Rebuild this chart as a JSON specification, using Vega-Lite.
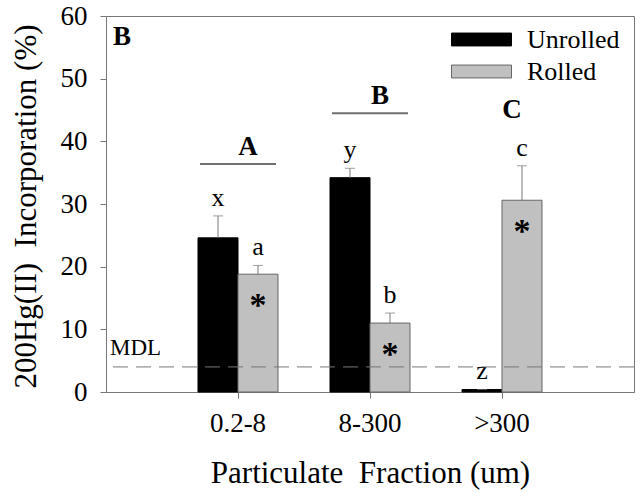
{
  "$schema": "https://vega.github.io/schema/vega-lite/v6.json",
  "width": 528,
  "height": 376,
  "autosize": {"type": "none"},
  "padding": {"left": 106, "top": 16, "right": 7, "bottom": 101},
  "config": {
    "font": "Liberation Serif",
    "view": {"stroke": "#777", "strokeWidth": 1},
    "text": {"color": "black", "font": "Liberation Serif"},
    "legend": {"labelFont": "Liberation Serif", "titleFont": "Liberation Serif"},
    "axisY": {
      "grid": false,
      "titleFont": "Liberation Serif",
      "titleFontSize": 31,
      "titleFontWeight": "normal",
      "titleColor": "black",
      "titleX": -80,
      "titleY": 190,
      "titleBaseline": "middle",
      "titleAngle": -90,
      "labelFont": "Liberation Serif",
      "labelFontSize": 27,
      "labelColor": "black",
      "labelPadding": 13,
      "tickSize": 6,
      "tickColor": "#777",
      "domainColor": "#777"
    },
    "axisX": {
      "titleFont": "Liberation Serif",
      "titleFontSize": 31,
      "titleFontWeight": "normal",
      "titleColor": "black",
      "titleY": 90,
      "titleBaseline": "alphabetic",
      "labelFont": "Liberation Serif",
      "labelFontSize": 27,
      "labelColor": "black",
      "labelAngle": 0,
      "labelPadding": 12,
      "tickSize": 6,
      "tickColor": "#777",
      "domainColor": "#777"
    }
  },
  "datasets": {
    "bars": [
      {"fraction": "0.2-8", "treatment": "Unrolled", "value": 24.6, "err": 28.1, "letter": "x", "star": false},
      {"fraction": "0.2-8", "treatment": "Rolled", "value": 18.8, "err": 20.2, "letter": "a", "star": true},
      {"fraction": "8-300", "treatment": "Unrolled", "value": 34.2, "err": 35.7, "letter": "y", "star": false},
      {"fraction": "8-300", "treatment": "Rolled", "value": 11.0, "err": 12.6, "letter": "b", "star": true},
      {"fraction": ">300", "treatment": "Unrolled", "value": 0.4, "err": 0.4, "letter": "z", "star": false},
      {"fraction": ">300", "treatment": "Rolled", "value": 30.6, "err": 36.1, "letter": "c", "star": true}
    ],
    "groups": [
      {"fraction": "0.2-8", "group": "A", "level": 36.4, "line": true},
      {"fraction": "8-300", "group": "B", "level": 44.5, "line": true},
      {"fraction": ">300", "group": "C", "level": 42.3, "line": false}
    ],
    "mdl": [{"level": 4, "label": "MDL", "start": 0}],
    "panel": [{"label": "B", "start": 0, "top": 60}]
  },
  "layer": [
    {
      "encoding": {
        "x": {
          "field": "fraction",
          "type": "nominal",
          "sort": ["0.2-8", "8-300", ">300"],
          "scale": {"paddingInner": 0.394, "paddingOuter": 0.697},
          "title": "Particulate \u00a0Fraction (um)"
        }
      },
      "layer": [
        {
          "data": {"name": "bars"},
          "mark": {"type": "bar", "strokeWidth": 1},
          "encoding": {
            "xOffset": {"field": "treatment", "sort": ["Unrolled", "Rolled"], "scale": {"paddingInner": 0, "paddingOuter": 0}},
            "y": {
              "field": "value",
              "type": "quantitative",
              "scale": {"domain": [0, 60], "nice": false},
              "axis": {"values": [0, 10, 20, 30, 40, 50, 60]},
              "title": "200Hg(II) \u00a0Incorporation (%)"
            },
            "fill": {
              "field": "treatment",
              "type": "nominal",
              "scale": {"domain": ["Unrolled", "Rolled"], "range": ["#000000", "#c0c0c0"]},
              "legend": {
                "title": null,
                "orient": "none",
                "legendX": 360,
                "legendY": 8,
                "padding": 0,
                "symbolType": "M-2,-0.43L2,-0.43L2,0.43L-2,0.43Z",
                "symbolSize": 900,
                "symbolStrokeWidth": 1,
                "labelFont": "Liberation Serif",
                "labelFontSize": 26,
                "labelColor": "black",
                "labelOffset": 30,
                "rowPadding": 3
              }
            },
            "stroke": {
              "field": "treatment",
              "type": "nominal",
              "scale": {"domain": ["Unrolled", "Rolled"], "range": ["#000000", "#666666"]}
            }
          }
        },
        {
          "data": {"name": "bars"},
          "mark": {"type": "rule", "color": "#777", "strokeWidth": 1},
          "encoding": {
            "xOffset": {"field": "treatment", "sort": ["Unrolled", "Rolled"]},
            "y": {"field": "value", "type": "quantitative", "scale": {"domain": [0, 60], "nice": false}, "axis": {"values": [0, 10, 20, 30, 40, 50, 60]}, "title": "200Hg(II) \u00a0Incorporation (%)"},
            "y2": {"field": "err"}
          }
        },
        {
          "data": {"name": "bars"},
          "mark": {"type": "tick", "color": "#777", "size": 10, "thickness": 1, "orient": "horizontal"},
          "encoding": {
            "xOffset": {"field": "treatment", "sort": ["Unrolled", "Rolled"]},
            "y": {"field": "err", "type": "quantitative", "scale": {"domain": [0, 60], "nice": false}, "axis": {"values": [0, 10, 20, 30, 40, 50, 60]}, "title": "200Hg(II) \u00a0Incorporation (%)"}
          }
        },
        {
          "data": {"name": "bars"},
          "mark": {"type": "text", "font": "Liberation Serif", "fontSize": 26, "dy": -10, "baseline": "alphabetic", "color": "black"},
          "encoding": {
            "xOffset": {"field": "treatment", "sort": ["Unrolled", "Rolled"]},
            "y": {"field": "err", "type": "quantitative", "scale": {"domain": [0, 60], "nice": false}, "axis": {"values": [0, 10, 20, 30, 40, 50, 60]}, "title": "200Hg(II) \u00a0Incorporation (%)"},
            "text": {"field": "letter"}
          }
        },
        {
          "data": {"name": "bars"},
          "transform": [{"filter": "datum.star"}],
          "mark": {"type": "text", "text": "*", "font": "Liberation Serif", "fontSize": 34, "fontWeight": "bold", "dy": 42, "baseline": "alphabetic", "color": "black"},
          "encoding": {
            "xOffset": {"field": "treatment", "sort": ["Unrolled", "Rolled"]},
            "y": {"field": "value", "type": "quantitative", "scale": {"domain": [0, 60], "nice": false}, "axis": {"values": [0, 10, 20, 30, 40, 50, 60]}, "title": "200Hg(II) \u00a0Incorporation (%)"}
          }
        },
        {
          "data": {"name": "groups"},
          "transform": [{"filter": "datum.line"}],
          "mark": {"type": "tick", "color": "#333", "size": 76, "thickness": 2, "orient": "horizontal"},
          "encoding": {
            "y": {"field": "level", "type": "quantitative", "scale": {"domain": [0, 60], "nice": false}, "axis": {"values": [0, 10, 20, 30, 40, 50, 60]}, "title": "200Hg(II) \u00a0Incorporation (%)"}
          }
        },
        {
          "data": {"name": "groups"},
          "mark": {"type": "text", "font": "Liberation Serif", "fontSize": 27, "fontWeight": "bold", "dx": 10, "dy": -9, "baseline": "alphabetic", "color": "black"},
          "encoding": {
            "y": {"field": "level", "type": "quantitative", "scale": {"domain": [0, 60], "nice": false}, "axis": {"values": [0, 10, 20, 30, 40, 50, 60]}, "title": "200Hg(II) \u00a0Incorporation (%)"},
            "text": {"field": "group"}
          }
        }
      ]
    },
    {
      "data": {"name": "mdl"},
      "layer": [
        {
          "mark": {"type": "rule", "color": "#777", "strokeWidth": 1, "strokeDash": [15, 8]},
          "encoding": {
            "y": {"field": "level", "type": "quantitative", "scale": {"domain": [0, 60], "nice": false}, "axis": {"values": [0, 10, 20, 30, 40, 50, 60]}, "title": "200Hg(II) \u00a0Incorporation (%)"}
          }
        },
        {
          "mark": {"type": "text", "font": "Liberation Serif", "fontSize": 23, "align": "left", "dx": 4, "dy": -12, "baseline": "alphabetic", "color": "black"},
          "encoding": {
            "x": {"field": "start", "type": "quantitative", "scale": {"domain": [0, 1]}, "axis": null},
            "y": {"field": "level", "type": "quantitative", "scale": {"domain": [0, 60], "nice": false}, "axis": {"values": [0, 10, 20, 30, 40, 50, 60]}, "title": "200Hg(II) \u00a0Incorporation (%)"},
            "text": {"field": "label"}
          }
        },
        {
          "data": {"name": "panel"},
          "mark": {"type": "text", "font": "Liberation Serif", "fontSize": 27, "fontWeight": "bold", "align": "left", "dx": 7, "dy": 29, "baseline": "alphabetic", "color": "black"},
          "encoding": {
            "x": {"field": "start", "type": "quantitative", "scale": {"domain": [0, 1]}, "axis": null},
            "y": {"field": "top", "type": "quantitative", "scale": {"domain": [0, 60], "nice": false}, "axis": {"values": [0, 10, 20, 30, 40, 50, 60]}, "title": "200Hg(II) \u00a0Incorporation (%)"},
            "text": {"field": "label"}
          }
        }
      ]
    }
  ],
  "resolve": {"scale": {"x": "independent"}}
}
